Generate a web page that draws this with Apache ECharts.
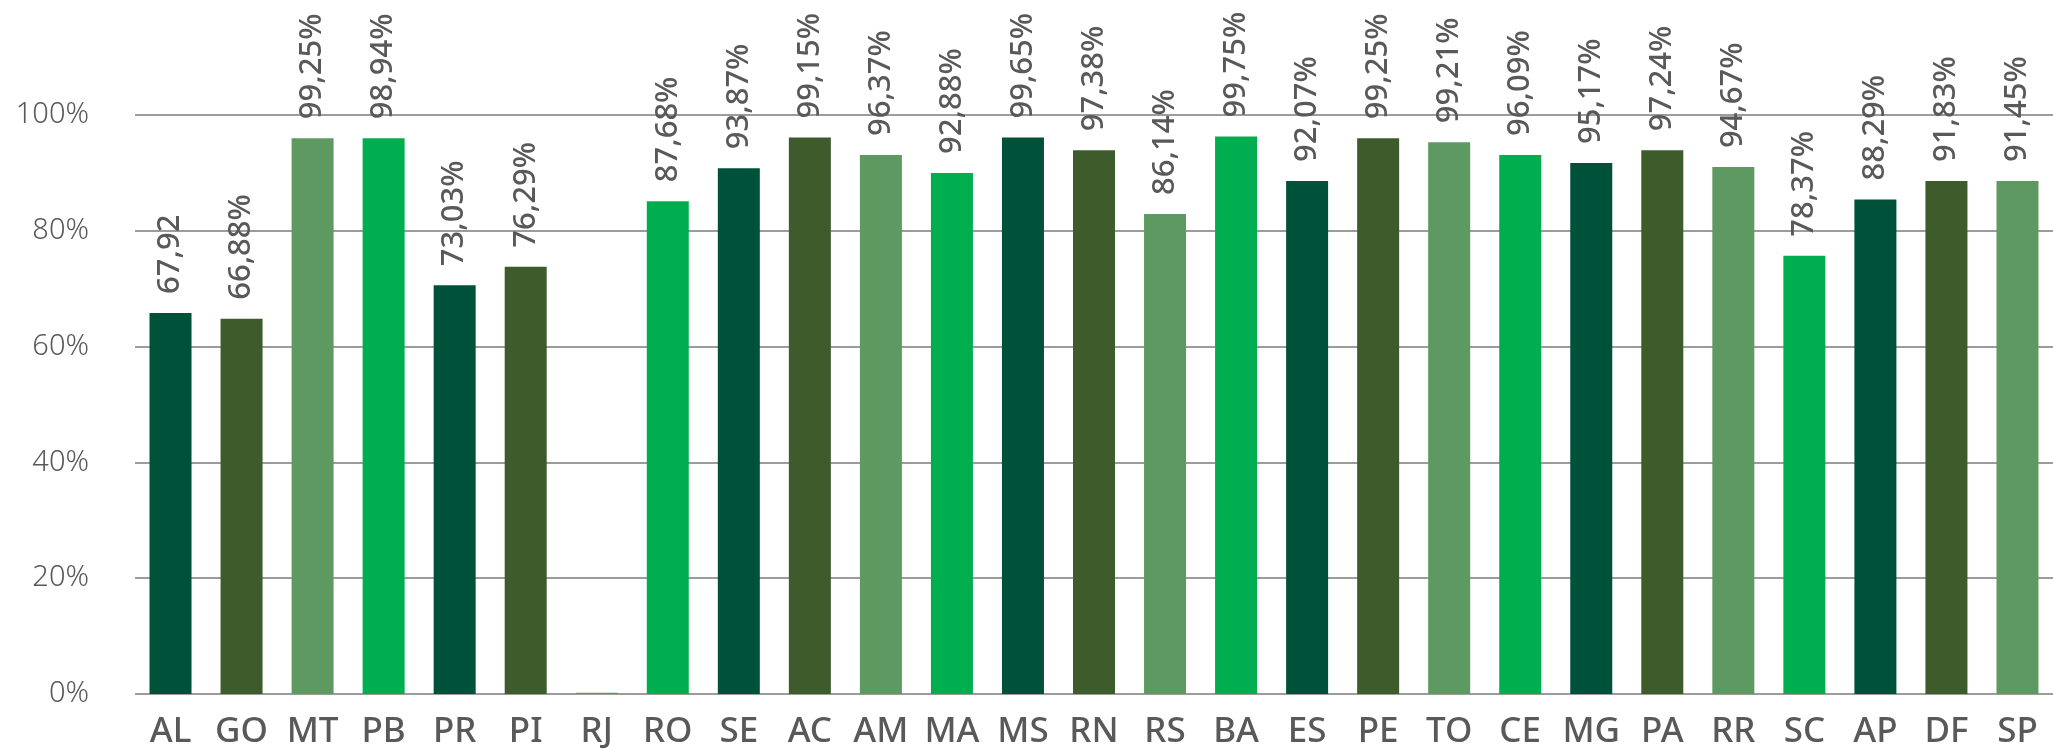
<!DOCTYPE html>
<html>
<head>
<meta charset="utf-8">
<script src="https://cdn.jsdelivr.net/npm/echarts@6/dist/echarts.min.js"></script>
<style>
  html, body { margin: 0; padding: 0; background: #fff; }
  #chart { width: 2053px; height: 750px; }
</style>
</head>
<body>
<div id="chart"></div>
<script>
// Data
const states = ['AL', 'GO', 'MT', 'PB', 'PR', 'PI', 'RJ', 'RO', 'SE', 'AC', 'AM', 'MA', 'MS', 'RN',
    'RS', 'BA', 'ES', 'PE', 'TO', 'CE', 'MG', 'PA', 'RR', 'SC', 'AP', 'DF', 'SP'];

// bar heights as drawn (percent)
const barValues = [65.8, 64.8, 96.0, 96.0, 70.6, 73.8, 0.2, 85.1, 90.8, 96.1, 93.1, 90.0, 96.1, 93.9,
    82.9, 96.3, 88.6, 96.0, 95.3, 93.1, 91.7, 93.9, 91.0, 75.7, 85.4, 88.6, 88.6];

// printed labels above the bars
const barLabels = ['67,92', '66,88%', '99,25%', '98,94%', '73,03%', '76,29%', '', '87,68%', '93,87%',
    '99,15%', '96,37%', '92,88%', '99,65%', '97,38%', '86,14%', '99,75%', '92,07%', '99,25%',
    '99,21%', '96,09%', '95,17%', '97,24%', '94,67%', '78,37%', '88,29%', '91,83%', '91,45%'];

const yTicks = [0, 20, 40, 60, 80, 100];

const palette = ['#00513a', '#3e5b2c', '#5e9962', '#00ae50'];
const textGray = '#595959';

const chart = echarts.init(document.getElementById('chart'));

chart.setOption({
    backgroundColor: '#ffffff',
    animation: false,
    grid: {
        left: 135,
        right: -4,
        top: 115,
        bottom: 47
    },
    xAxis: {
        type: 'category',
        data: states,
        axisLine: { show: false },
        axisTick: { show: false },
        axisLabel: {
            color: textGray,
            fontFamily: 'Noto Sans',
            fontWeight: 500,
            fontSize: 35,
            margin: 21,
            interval: 0
        }
    },
    yAxis: {
        type: 'value',
        min: yTicks[0],
        max: yTicks[yTicks.length - 1],
        interval: 20,
        axisLine: { show: false },
        axisTick: { show: false },
        splitLine: { lineStyle: { color: '#9c9c9c', width: 2 } },
        axisLabel: {
            color: textGray,
            fontFamily: 'Noto Sans',
            fontWeight: 300,
            fontSize: 29,
            margin: 46,
            padding: [6, 0, 0, 0],
            formatter: '{value}%'
        }
    },
    series: [{
        type: 'bar',
        barWidth: 42,
        data: barValues.map((v, i) => ({
            value: v,
            itemStyle: { color: palette[i % palette.length] }
        })),
        label: {
            show: true,
            position: 'top',
            rotate: 90,
            align: 'left',
            verticalAlign: 'middle',
            distance: 19,
            color: textGray,
            fontFamily: 'Noto Sans',
            fontWeight: 500,
            fontSize: 31,
            formatter: (p) => barLabels[p.dataIndex]
        }
    }]
});
</script>
</body>
</html>
